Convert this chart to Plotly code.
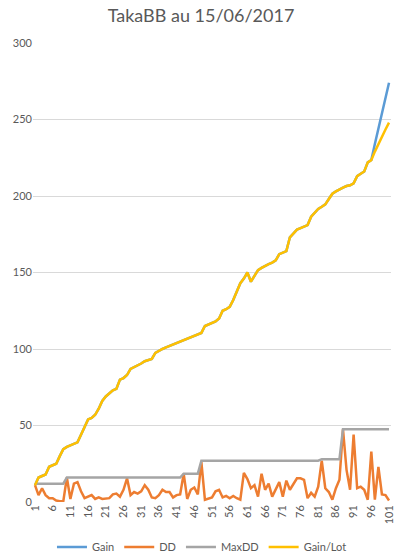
import plotly.graph_objects as go

trades = list(range(1, 102))

gain_lot = [11, 16, 17, 18, 23, 24, 25, 30, 34.5, 36,
            37, 38, 39, 44, 49, 54, 55, 57, 61, 66,
            69, 71, 73, 74, 80, 81, 83, 87, 88, 89.5,
            90.5, 92, 93, 93.5, 97.5, 99, 100, 101, 102, 102.5,
            103.5, 104.5, 105.5, 106.5, 107.5, 108.5, 109.5, 110.5, 115, 116,
            117, 118, 120, 125, 126, 127.5, 132, 138, 143, 146,
            150, 144, 148, 151.5, 153, 154.5, 155.5, 156.5, 158, 162,
            163, 164, 173, 175.5, 178, 179, 180, 181, 186.5, 189,
            191.5, 193, 194.5, 198, 201.5, 203, 204.5, 205.5, 206.5, 207,
            208.3, 213, 214.5, 216, 222, 223.5, 229, 234, 239.5, 243.5,
            248]

gain = gain_lot[:96] + [234, 244, 254, 264, 274]

dd = [11, 4.5, 9, 4.5, 2.5, 2.5, 1, 0.5, 0.5, 16,
      2, 12, 13, 7, 2.5, 3.5, 4.5, 2, 3, 2,
      2.5, 2.5, 5, 5.5, 3.5, 8, 15.5, 4.5, 6.5, 5.5,
      7, 11, 8, 3, 2.5, 4.5, 8, 6.5, 6.5, 3,
      4.5, 5, 18.5, 2, 8, 9.5, 5, 26, 1.5, 2,
      3, 7, 8, 3, 4, 2.5, 4, 2.5, 1.5, 19,
      15, 9, 11, 3.5, 18.5, 8, 12, 3.5, 8.5, 13,
      3.5, 14, 8, 12, 15.5, 15.5, 14.5, 2.5, 6, 3.5,
      10, 27, 9, 6.5, 1.5, 9, 14.5, 47.5, 21, 8,
      44, 9, 10, 8, 1.5, 33, 1.5, 23, 5, 4.5,
      1]

max_dd = [12] * 9 + [16] * 33 + [18.5] * 5 + [27] * 34 + [28] * 6 + [47.5] * 14

tick_vals = trades[::5]
tick_text = [str(v) for v in tick_vals]

series = [
    ("Gain", gain, "#5B9BD5"),
    ("DD", dd, "#ED7D31"),
    ("MaxDD", max_dd, "#A5A5A5"),
    ("Gain/Lot", gain_lot, "#FFC000"),
]

fig = go.Figure()
for name, vals, col in series:
    fig.add_trace(go.Scatter(x=trades, y=vals, name=name, mode="lines",
                             line=dict(color=col, width=2.5)))

fig.update_layout(
    width=403, height=558,
    margin=dict(l=33, r=12, t=43, b=56, autoexpand=False),
    paper_bgcolor="white", plot_bgcolor="white",
    font=dict(family="Lato, Liberation Sans, sans-serif", color="#595959", size=11),
    title=dict(text="TakaBB au 15/06/2017", x=201 / 403, xanchor="center",
               y=1 - 16 / 558, yanchor="middle",
               font=dict(size=18, color="#595959")),
    showlegend=True,
    legend=dict(orientation="h", x=0.472, xanchor="center", y=-0.098, yanchor="middle",
                font=dict(size=11, color="#595959"), itemwidth=30),
    xaxis=dict(range=[0.44, 101.56], tickvals=tick_vals, ticktext=tick_text,
               tickangle=-90, showgrid=False, zeroline=False, showline=False,
               ticks="", automargin=False, tickfont=dict(size=11, color="#595959")),
    yaxis=dict(range=[0, 300], dtick=50, showgrid=True, gridcolor="#D9D9D9",
               gridwidth=1, zeroline=False, showline=False, ticks="", automargin=False,
               tickfont=dict(size=11, color="#595959")),
)

fig.write_html("out.html", config={"displayModeBar": False},
               post_script="document.body.style.margin='0';")
